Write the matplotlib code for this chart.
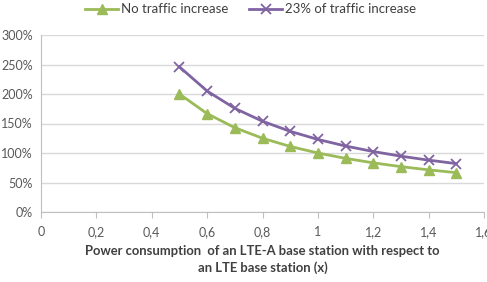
import matplotlib
matplotlib.use("Agg")
import matplotlib.pyplot as plt
from matplotlib.ticker import FuncFormatter

x_vals = [0.5, 0.6, 0.7, 0.8, 0.9, 1.0, 1.1, 1.2, 1.3, 1.4, 1.5]
no_increase = [2.00, 1.667, 1.429, 1.25, 1.111, 1.00, 0.909, 0.833, 0.769, 0.714, 0.667]
increase_23 = [2.46, 2.05, 1.757, 1.538, 1.367, 1.23, 1.118, 1.025, 0.946, 0.879, 0.82]
series_labels = ["No traffic increase", "23% of traffic increase"]
xticks = [0, 0.2, 0.4, 0.6, 0.8, 1.0, 1.2, 1.4, 1.6]
yticks = [0, 0.5, 1.0, 1.5, 2.0, 2.5, 3.0]

plt.rcParams['font.family'] = ['Lato', 'DejaVu Sans']

fig = plt.figure(figsize=(4.87, 2.82), dpi=100)
ax = fig.add_axes([41/487, 1-212/282, (484-41)/487, (212-35)/282])

green = '#9BBB59'
purple = '#8064A2'
ax.plot(x_vals, no_increase, color=green, lw=2, marker='^', ms=6.5, label=series_labels[0])
ax.plot(x_vals, increase_23, color=purple, lw=2, marker='x', ms=7, mew=1.3, label=series_labels[1])

ax.set_xlim(0, 1.6)
ax.set_ylim(0, 3.0)
ax.set_xticks(xticks)
ax.set_yticks(yticks)
ax.xaxis.set_major_formatter(FuncFormatter(lambda v, p: ('%g' % round(v, 1)).replace('.', ',')))
ax.yaxis.set_major_formatter(FuncFormatter(lambda v, p: '%d%%' % round(v * 100)))
ax.grid(axis='y', color='#D9D9D9', lw=1)
ax.set_axisbelow(True)
for s in ['top', 'right']:
    ax.spines[s].set_visible(False)
ax.spines['left'].set_color('#BFBFBF')
ax.spines['bottom'].set_color('#BFBFBF')
ax.tick_params(axis='x', colors='#BFBFBF', length=4, labelcolor='#595959', labelsize=9, pad=6)
ax.tick_params(axis='y', length=0, labelcolor='#595959', labelsize=9, pad=6)

ax.set_xlabel("Power consumption  of an LTE-A base station with respect to\nan LTE base station (x)",
              fontsize=9.4, fontweight='bold', color='#404040', labelpad=5, linespacing=1.45)

fig.legend(loc='upper center', bbox_to_anchor=(0.515, 1.03), ncol=2, frameon=False,
           fontsize=9.5, handlelength=2.5, handletextpad=0.2, columnspacing=1.6,
           labelcolor='#404040')

fig.savefig('out.png', dpi=100)
